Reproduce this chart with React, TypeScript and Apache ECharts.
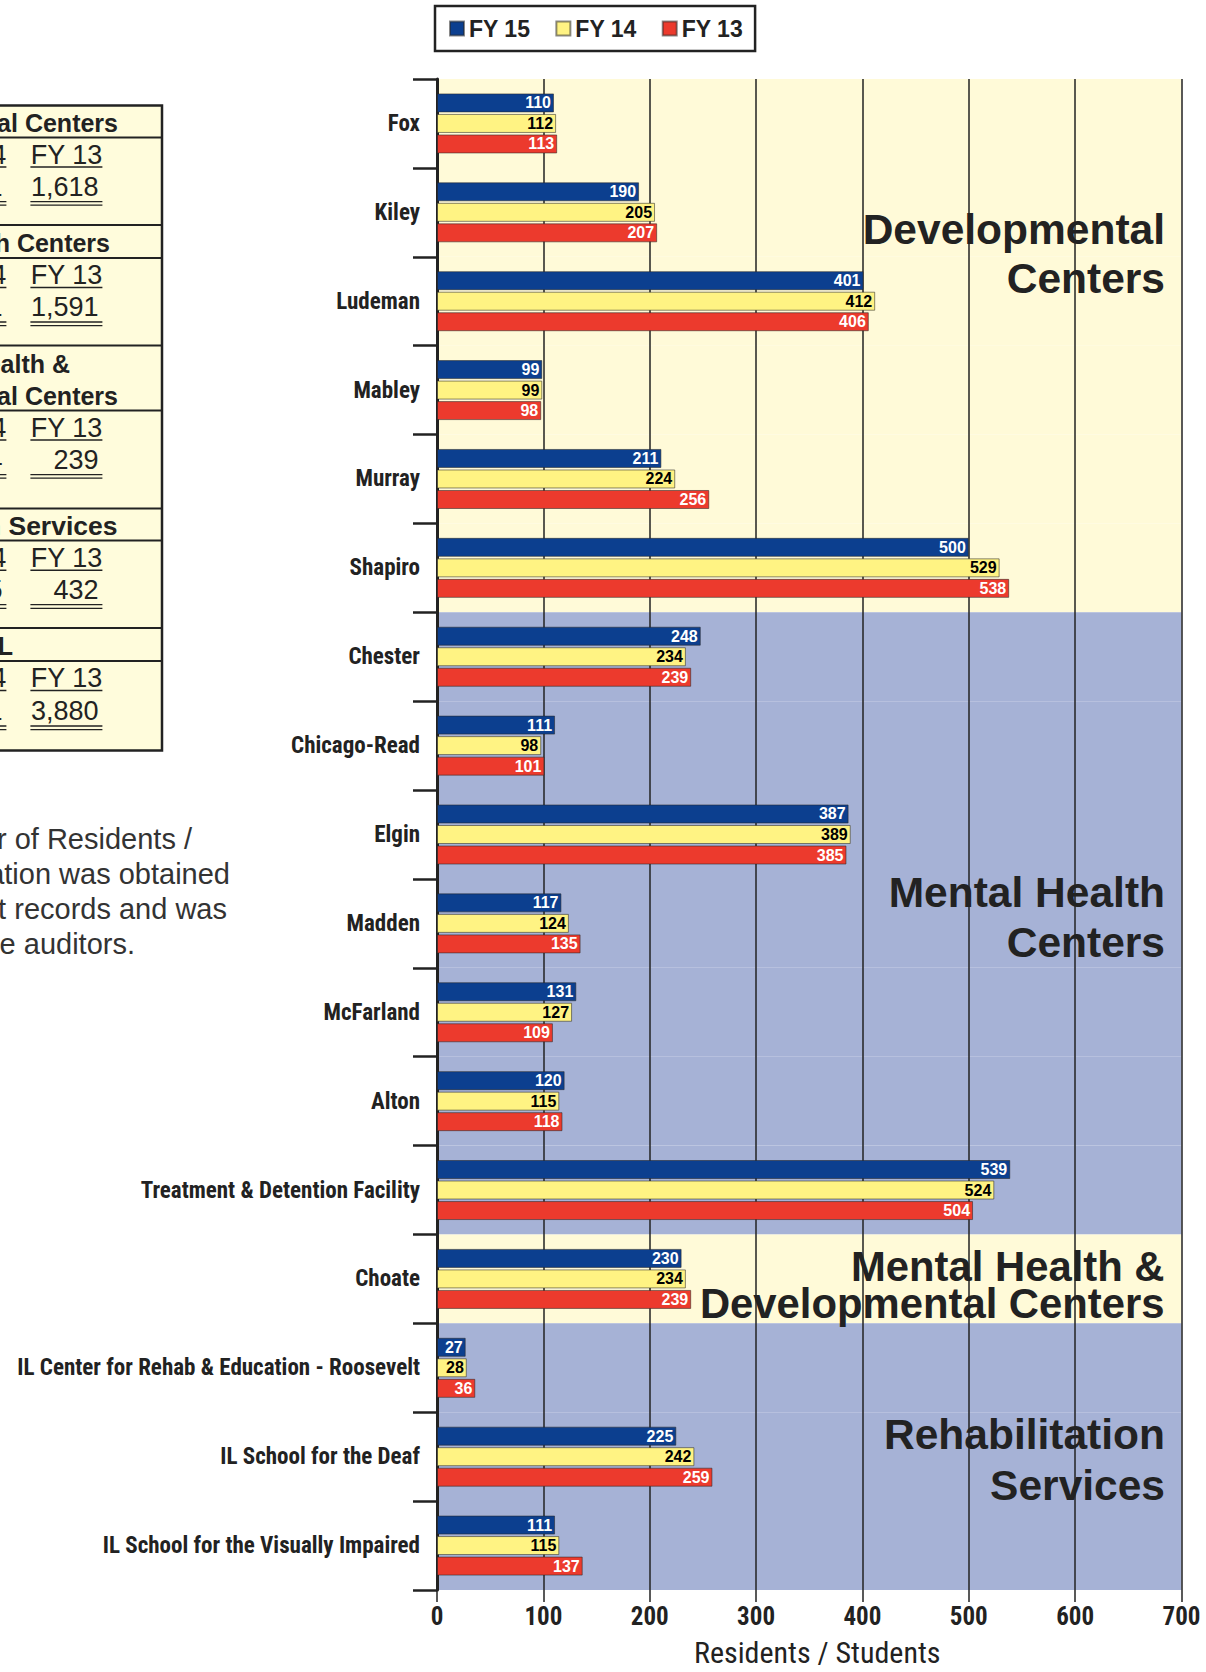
import React, { useEffect, useRef } from 'react';
import * as echarts from 'echarts';

const categories = [
  'Fox', 'Kiley', 'Ludeman', 'Mabley', 'Murray', 'Shapiro',
  'Chester', 'Chicago-Read', 'Elgin', 'Madden', 'McFarland', 'Alton', 'Treatment & Detention Facility',
  'Choate',
  'IL Center for Rehab & Education - Roosevelt', 'IL School for the Deaf', 'IL School for the Visually Impaired',
];
const fy15 = [110, 190, 401, 99, 211, 500, 248, 111, 387, 117, 131, 120, 539, 230, 27, 225, 111];
const fy14 = [112, 205, 412, 99, 224, 529, 234, 98, 389, 124, 127, 115, 524, 234, 28, 242, 115];
const fy13 = [113, 207, 406, 98, 256, 538, 239, 101, 385, 135, 109, 118, 504, 239, 36, 259, 137];
const seriesNames = ['FY 15', 'FY 14', 'FY 13'];
const sectionSizes = [6, 7, 1, 3];
const sectionTitles = [
  ['Developmental', 'Centers'],
  ['Mental Health', 'Centers'],
  ['Mental Health &', 'Developmental Centers'],
  ['Rehabilitation', 'Services'],
];
const tableTitles = [
  ['Developmental Centers'],
  ['Mental Health Centers'],
  ['Mental Health &', 'Developmental Centers'],
  ['Rehabilitation Services'],
  ['TOTAL'],
];
const noteLines = [
  'Note: The Number of Residents /',
  'Students information was obtained',
  'from Department records and was',
  'not audited by the auditors.',
];

const NARROW = "'Liberation Sans Narrow','Arial Narrow','Roboto Condensed','DejaVu Sans Condensed',sans-serif";
const SANS = "'Liberation Sans',Arial,Helvetica,sans-serif";
const INK = '#222';
const BG_YELLOW = '#FFFAD8';
const BG_BLUE = '#A6B2D6';

const fmt = (n: number) => n.toLocaleString('en-US');

function sectionTotals(arr: number[]) {
  const out: number[] = [];
  let i = 0;
  for (const s of sectionSizes) {
    out.push(arr.slice(i, i + s).reduce((a, b) => a + b, 0));
    i += s;
  }
  out.push(arr.reduce((a, b) => a + b, 0));
  return out;
}

export default function App() {
  const ref = useRef<HTMLDivElement>(null);
  useEffect(() => {
    if (!ref.current) return;
    const chart = echarts.init(ref.current, undefined, { renderer: 'svg' });

    const bgColors: string[] = [];
    sectionSizes.forEach((s, k) => {
      for (let j = 0; j < s; j++) bgColors.push(k % 2 === 0 ? BG_YELLOW : BG_BLUE);
    });

    const mk = (name: string, data: number[], color: string, labelColor: string) => ({
      type: 'bar',
      name,
      data,
      barWidth: 19,
      barGap: '8%',
      itemStyle: { color, borderColor: 'rgba(40,40,40,0.55)', borderWidth: 1 },
      label: {
        show: true,
        position: 'insideRight',
        distance: 3,
        color: labelColor,
        fontSize: 16,
        fontWeight: 'bold',
        fontFamily: SANS,
      },
    });

    const graphics: any[] = [];
    // Section titles inside the plot
    const sectionCenter = [253.75, 917, 1284.75, 1459.5];
    const sectionLineH = [48.5, 50, 37.5, 51];
    const sectionFont = [42.5, 42.5, 41.8, 42.5];
    const sectionRight = [1165, 1165, 1164.5, 1165];
    sectionTitles.forEach((lines, k) => {
      graphics.push({
        type: 'text', x: sectionRight[k], y: sectionCenter[k], z: 10,
        style: {
          text: lines.join('\n'), fill: INK, fontSize: sectionFont[k], fontWeight: 'bold', fontFamily: SANS,
          lineHeight: sectionLineH[k], align: 'right', verticalAlign: 'middle',
        },
      });
    });

    // Summary table (cropped at the left edge)
    graphics.push({
      type: 'rect', shape: { x: -20, y: 105.6, width: 182, height: 645 },
      style: { fill: '#FFFCDC', stroke: INK, lineWidth: 2.5 },
    });
    const t15 = sectionTotals(fy15);
    const t14 = sectionTotals(fy14);
    const t13 = sectionTotals(fy13);
    const layout = [
      { head: [122.6], right: [118], size: 25, line: 137.5, fy: 154.6, val: 186.6, sep: 225 },
      { head: [243], right: [110], size: 25, line: 258, fy: 275, val: 307, sep: 345.5 },
      { head: [363.6, 395.6], right: [70, 118], size: 25, line: 410.5, fy: 427.6, val: 459.6, sep: 508.6 },
      { head: [525.7], right: [117.5], size: 26.5, line: 540.6, fy: 557.7, val: 589.7, sep: 628 },
      { head: [646.2], right: [13], size: 25, line: 661, fy: 678, val: 711, sep: 0 },
    ];
    const colRight = [-89, 6.4, 102.4];
    const totalsByCol = [t15, t14, t13];
    const hline = (x1: number, x2: number, y: number, w: number) => ({
      type: 'line', shape: { x1, y1: y, x2, y2: y }, style: { stroke: INK, lineWidth: w },
    });
    layout.forEach((L, k) => {
      tableTitles[k].forEach((t, j) => {
        graphics.push({
          type: 'text', x: L.right[j], y: L.head[j],
          style: { text: t, fill: INK, fontSize: L.size, fontWeight: 'bold', fontFamily: SANS, align: 'right', verticalAlign: 'middle' },
        });
      });
      graphics.push(hline(-20, 161, L.line, 2));
      if (L.sep) graphics.push(hline(-20, 161, L.sep, 2));
      seriesNames.forEach((nm, c) => {
        const r = colRight[c];
        graphics.push({
          type: 'text', x: r, y: L.fy,
          style: { text: nm, fill: INK, fontSize: 27, fontFamily: SANS, align: 'right', verticalAlign: 'middle' },
        });
        graphics.push(hline(r - 72, r, L.fy + 12.5, 1.5));
        graphics.push({
          type: 'text', x: r - 3.8, y: L.val,
          style: { text: fmt(totalsByCol[c][k]), fill: INK, fontSize: 27, fontFamily: SANS, align: 'right', verticalAlign: 'middle' },
        });
        graphics.push(hline(r - 72, r, L.val + 15, 1.3));
        graphics.push(hline(r - 72, r, L.val + 18.6, 1.3));
      });
    });

    // Note text (cropped)
    const noteRight = [192, 230, 227, 135];
    const noteY = [838.5, 873.5, 908.5, 943.5];
    noteLines.forEach((t, i) => {
      graphics.push({
        type: 'text', x: noteRight[i], y: noteY[i],
        style: { text: t, fill: '#333', fontSize: 29, fontFamily: SANS, align: 'right', verticalAlign: 'middle' },
      });
    });

    chart.setOption({
      animation: false,
      backgroundColor: '#fff',
      legend: {
        data: seriesNames,
        left: 435,
        top: 6,
        padding: [11, 12, 11, 14],
        itemGap: 25,
        itemWidth: 14,
        itemHeight: 14,
        icon: 'rect',
        borderColor: INK,
        borderWidth: 2.5,
        textStyle: { fontSize: 23, fontWeight: 'bold', color: INK, fontFamily: SANS },
      },
      grid: { left: 437, right: 24.5, top: 79, bottom: 72, containLabel: false },
      xAxis: {
        type: 'value',
        min: 0,
        max: 700,
        interval: 100,
        axisLine: { show: false },
        axisTick: { show: true, length: 12, lineStyle: { color: INK, width: 1.5 } },
        splitLine: { show: true, lineStyle: { color: INK, width: 1.5 } },
        axisLabel: { fontSize: 25, fontWeight: 'bold', fontFamily: NARROW, color: INK, margin: 14 },
        name: 'Residents / Students',
        nameLocation: 'middle',
        nameGap: 47,
        nameTextStyle: { fontSize: 30, fontFamily: NARROW, color: INK, padding: [0, 0, 0, 16] },
      },
      yAxis: {
        type: 'category',
        data: categories,
        inverse: true,
        axisLine: { show: true, lineStyle: { color: INK, width: 3 } },
        axisTick: { show: true, length: 24, lineStyle: { color: INK, width: 2.5 } },
        axisLabel: { fontSize: 23, fontWeight: 'bold', fontFamily: NARROW, color: INK, margin: 17 },
        splitLine: { show: false },
        splitArea: { show: true, areaStyle: { color: bgColors } },
      },
      series: [
        mk('FY 15', fy15, '#0C3F8F', '#fff'),
        mk('FY 14', fy14, '#FFF383', '#000'),
        mk('FY 13', fy13, '#EC3A2D', '#fff'),
      ],
      graphic: graphics,
    });
    return () => chart.dispose();
  }, []);
  return <div ref={ref} style={{ position: 'absolute', left: 0, top: 0, width: 1206, height: 1672 }} />;
}
